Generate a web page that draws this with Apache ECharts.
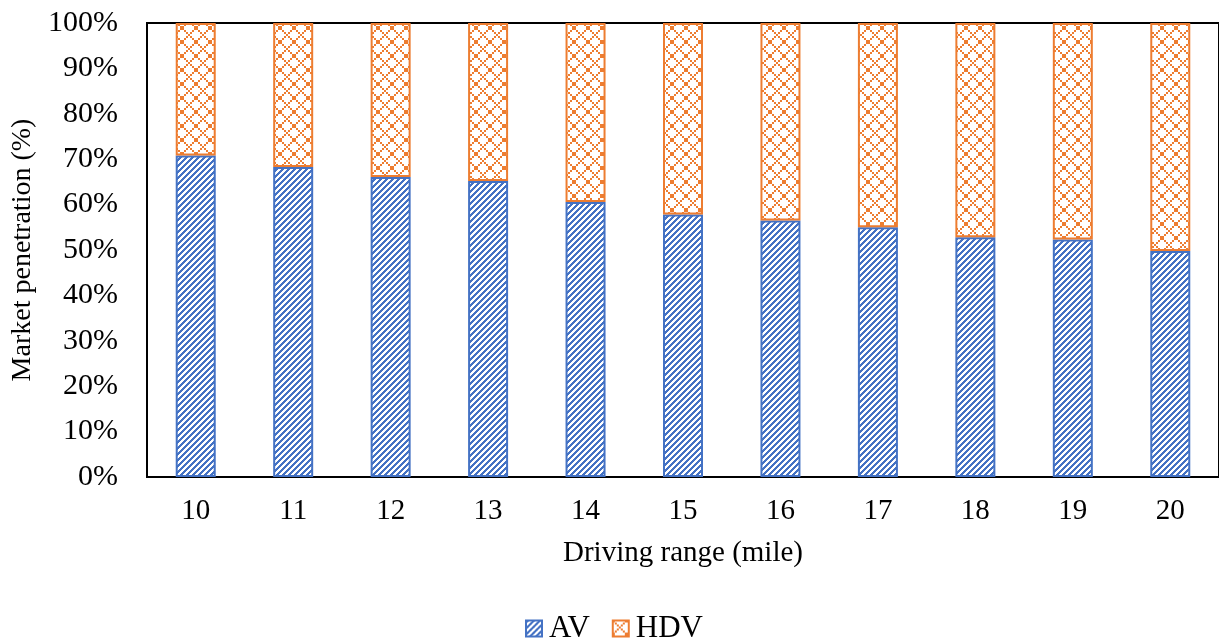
<!DOCTYPE html>
<html>
<head>
<meta charset="utf-8">
<style>
  html, body { margin: 0; padding: 0; background: #fff; }
  #chart { width: 1219px; height: 641px; }
</style>
<script src="https://cdn.jsdelivr.net/npm/echarts@6/dist/echarts.min.js"></script>
</head>
<body>
<div id="chart"></div>
<script>
// Driving range categories (miles)
const ranges = ['10', '11', '12', '13', '14', '15', '16', '17', '18', '19', '20'];
// Market penetration of autonomous vehicles (%)
const avShare = [70.8, 68.3, 66.1, 65.2, 60.6, 57.8, 56.5, 55.0, 52.8, 52.3, 49.8];
// Remaining share held by human-driven vehicles (%)
const hdvShare = avShare.map(v => +(100 - v).toFixed(1));

const BLUE = '#4472C4';
const ORANGE = '#ED7D31';
const FONT = '"Liberation Serif", "Times New Roman", serif';

// Diagonal "/" stripe tile for AV bars
function stripeTile() {
  const c = document.createElement('canvas');
  c.width = 6; c.height = 6;
  const g = c.getContext('2d');
  g.fillStyle = '#fff';
  g.fillRect(0, 0, 6, 6);
  g.fillStyle = BLUE;
  for (let y = 0; y < 6; y++) {
    for (let x = 0; x < 6; x++) {
      if (((x + y) % 6) < 3) g.fillRect(x, y, 1, 1);
    }
  }
  return c;
}

// Dotted diamond lattice tile for HDV bars
function latticeTile() {
  const n = 14;
  const c = document.createElement('canvas');
  c.width = n; c.height = n;
  const g = c.getContext('2d');
  g.fillStyle = '#fff';
  g.fillRect(0, 0, n, n);
  g.fillStyle = ORANGE;
  for (let k = 0; k < n / 2; k++) {
    g.fillRect(2 * k, 2 * k, 2, 2);
    g.fillRect(n - 2 - 2 * k, 2 * k, 2, 2);
  }
  return c;
}

const chart = echarts.init(document.getElementById('chart'), null, { renderer: 'canvas' });

chart.setOption({
  animation: false,
  backgroundColor: '#fff',
  textStyle: { fontFamily: FONT, color: '#000' },
  grid: {
    left: 147, right: -2, top: 23, bottom: 164,
    show: true, borderColor: '#000', borderWidth: 2, backgroundColor: 'transparent'
  },
  legend: {
    top: 608,
    left: 520,
    itemWidth: 16,
    itemHeight: 16,
    itemGap: 22,
    icon: 'rect',
    textStyle: { fontFamily: FONT, fontSize: 31, color: '#000', padding: [0, 0, 0, 2] },
    data: ['AV', 'HDV']
  },
  xAxis: {
    type: 'category',
    data: ranges,
    name: 'Driving range (mile)',
    nameLocation: 'middle',
    nameGap: 62,
    nameTextStyle: { fontFamily: FONT, fontSize: 29, color: '#000' },
    axisLine: { show: true, lineStyle: { color: '#000', width: 2 } },
    axisTick: { show: false },
    axisLabel: { fontFamily: FONT, fontSize: 29, color: '#000', margin: 20 }
  },
  yAxis: {
    type: 'value',
    min: 0, max: 100, interval: 10,
    name: 'Market penetration (%)',
    nameLocation: 'middle',
    nameGap: 110,
    nameTextStyle: { fontFamily: FONT, fontSize: 28, color: '#000' },
    axisLine: { show: true, lineStyle: { color: '#000', width: 2 } },
    axisTick: { show: false },
    splitLine: { show: false },
    axisLabel: { fontFamily: FONT, fontSize: 30, color: '#000', margin: 29, formatter: '{value}%' }
  },
  series: [
    {
      name: 'AV',
      type: 'bar',
      stack: 'share',
      barWidth: 40,
      data: avShare,
      itemStyle: {
        color: { image: stripeTile(), repeat: 'repeat' },
        borderColor: BLUE,
        borderWidth: 2
      }
    },
    {
      name: 'HDV',
      type: 'bar',
      stack: 'share',
      barWidth: 40,
      data: hdvShare,
      itemStyle: {
        color: { image: latticeTile(), repeat: 'repeat' },
        borderColor: ORANGE,
        borderWidth: 2
      }
    }
  ]
});
</script>
</body>
</html>
